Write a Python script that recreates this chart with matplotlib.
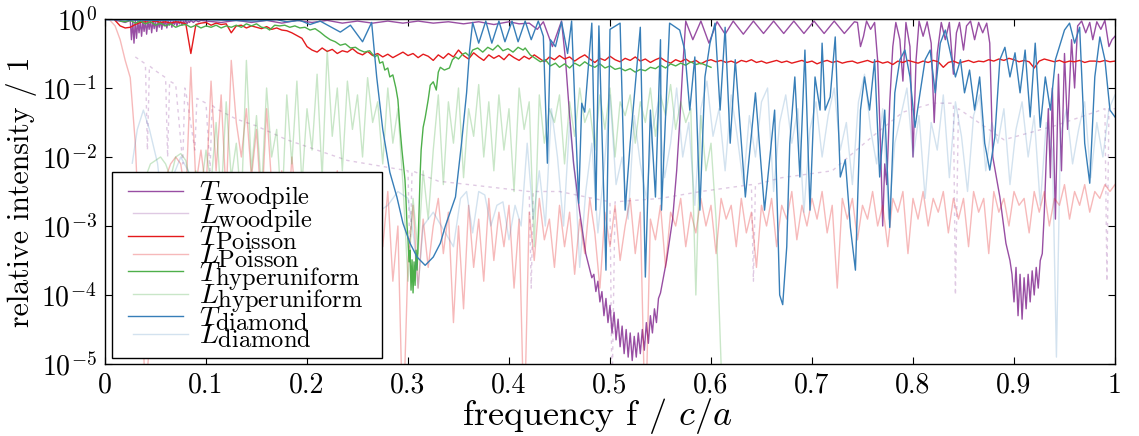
import numpy as np
import matplotlib
matplotlib.use("Agg")
import matplotlib.pyplot as plt
import matplotlib._mathtext as _mt
from matplotlib.legend_handler import HandlerLine2D

plt.rcParams["font.family"] = ["cmr10", "DejaVu Serif"]
plt.rcParams["mathtext.fontset"] = "cm"
plt.rcParams["axes.formatter.use_mathtext"] = True

# ---------------------------------------------------------------------------
# spectra: frequency f (units of c/a) and log10 of the relative intensity
# ---------------------------------------------------------------------------

# transmission, woodpile
f_t_woodpile = [
    0.010, 0.015, 0.020, 0.0250, 0.0262, 0.0275, 0.0287, 0.0300, 0.0312, 0.0325,
    0.0337, 0.0350, 0.0362, 0.0375, 0.0387, 0.0400, 0.0412, 0.0425, 0.0437, 0.0450,
    0.0462, 0.0475, 0.0487, 0.0500, 0.0512, 0.0525, 0.0537, 0.0550, 0.0562, 0.0575,
    0.0587, 0.0600, 0.0612, 0.0625, 0.0637, 0.0650, 0.0662, 0.0675, 0.0687, 0.0700,
    0.0712, 0.0725, 0.0737, 0.0750, 0.0762, 0.0775, 0.0787, 0.0800, 0.0812, 0.0825,
    0.0837, 0.0850, 0.0875, 0.0900, 0.0925, 0.0950,
    0.100, 0.115, 0.130, 0.145, 0.160, 0.175, 0.190, 0.205, 0.220, 0.235,
    0.250, 0.265, 0.280, 0.295, 0.310, 0.325, 0.340, 0.355, 0.370, 0.385,
    0.400, 0.410, 0.420, 0.428, 0.434, 0.443, 0.452,
    0.456, 0.460, 0.464, 0.470, 0.476, 0.482,
    0.484, 0.486, 0.488, 0.490, 0.492, 0.494, 0.496, 0.498, 0.500, 0.502,
    0.504, 0.506, 0.508, 0.510, 0.512, 0.514, 0.516, 0.518, 0.520, 0.522,
    0.524, 0.526, 0.528, 0.530, 0.532, 0.534, 0.536, 0.538, 0.540, 0.542,
    0.544, 0.546, 0.548, 0.550, 0.556, 0.562, 0.566, 0.569, 0.572,
    0.575, 0.582, 0.590, 0.598, 0.606, 0.614, 0.622, 0.632, 0.642, 0.652,
    0.662, 0.672, 0.682, 0.692, 0.702, 0.712, 0.722, 0.732, 0.742,
    0.745, 0.748, 0.751, 0.754, 0.758, 0.762, 0.765, 0.768, 0.770, 0.772,
    0.774, 0.777, 0.780, 0.783, 0.787, 0.790, 0.793, 0.797, 0.800, 0.803,
    0.806, 0.810, 0.814, 0.818, 0.821, 0.824, 0.828, 0.832, 0.836, 0.840,
    0.843, 0.846, 0.850, 0.853, 0.857, 0.861, 0.865, 0.869, 0.873, 0.876,
    0.879, 0.886, 0.892, 0.896,
    0.898, 0.900, 0.902, 0.904, 0.906, 0.908, 0.910, 0.912, 0.914, 0.916,
    0.918, 0.920, 0.922, 0.924, 0.926, 0.928, 0.930, 0.932, 0.934, 0.936,
    0.938, 0.941, 0.944, 0.947, 0.950, 0.953, 0.957, 0.960, 0.963, 0.967,
    0.971, 0.975, 0.978, 0.982, 0.986, 0.990, 0.994, 0.997, 1.000,
]
lg_t_woodpile = [
    -0.02, -0.03, -0.05, -0.02, -0.30, -0.03, -0.35, -0.02, -0.28, -0.03,
    -0.20, -0.02, -0.25, -0.03, -0.18, -0.02, -0.22, -0.03, -0.15, -0.02,
    -0.20, -0.02, -0.14, -0.02, -0.18, -0.03, -0.12, -0.02, -0.15, -0.03,
    -0.10, -0.02, -0.13, -0.03, -0.09, -0.02, -0.12, -0.03, -0.08, -0.02,
    -0.10, -0.03, -0.07, -0.02, -0.09, -0.03, -0.06, -0.02, -0.07, -0.03,
    -0.05, -0.02, -0.05, -0.02, -0.04, -0.02,
    -0.03, -0.05, -0.02, -0.05, -0.02, -0.06, -0.02, -0.05, -0.02, -0.06,
    -0.03, -0.06, -0.03, -0.06, -0.03, -0.06, -0.04, -0.07, -0.04, -0.08,
    -0.04, -0.07, -0.06, -0.15, -0.04, -0.40, -0.03,
    -0.60, -1.40, -2.10, -2.80, -3.40, -3.75,
    -3.70, -3.95, -3.80, -4.10, -3.95, -4.30, -4.05, -4.40, -4.15, -4.55,
    -4.25, -4.65, -4.35, -4.75, -4.45, -4.85, -4.50, -4.90, -4.55, -4.95,
    -4.60, -4.90, -4.55, -4.85, -4.50, -4.80, -4.40, -4.70, -4.30, -4.55,
    -4.20, -4.40, -4.05, -3.97, -3.50, -2.90, -2.20, -1.50, -0.70,
    -0.03, -0.30, -0.03, -0.35, -0.04, -0.22, -0.03, -0.22, -0.03, -0.21,
    -0.03, -0.21, -0.03, -0.21, -0.03, -0.21, -0.03, -0.21, -0.04,
    -0.05, -0.40, -0.25, -0.03, -0.15, -0.05, -0.60, -1.90, -3.00, -2.10,
    -2.40, -1.20, -0.40, -0.05, -0.30, -0.90, -0.05, -0.40, -2.00, -0.60,
    -0.03, -0.25, -0.04, -0.35, -1.50, -0.50, -0.05, -0.30, -0.05, -0.80,
    -0.20, -0.05, -0.45, -0.10, -0.03, -0.30, -0.05, -0.20, -0.06, -0.35,
    -2.00, -2.58, -3.25, -3.50,
    -3.70, -4.10, -3.60, -4.30, -3.70, -4.35, -3.75, -4.20, -3.70, -4.10,
    -3.65, -4.00, -3.60, -3.90, -3.50, -3.40, -2.80, -2.00, -1.30, -2.30,
    -1.00, -2.90, -0.80, -2.20, -0.50, -1.60, -0.30, -1.00, -0.10, -0.03,
    -0.20, -0.05, -0.30, -0.04, -0.15, -0.02, -0.40, -0.30, -0.25,
]

# longitudinal, woodpile
f_l_woodpile = [
    0.030, 0.040, 0.042, 0.044, 0.050, 0.060, 0.062, 0.064, 0.070, 0.077,
    0.079, 0.080, 0.089, 0.091, 0.100, 0.104, 0.106, 0.110, 0.130, 0.150,
    0.180, 0.210, 0.240, 0.280, 0.300, 0.302, 0.304, 0.330, 0.390, 0.420,
    0.422, 0.424, 0.450, 0.500, 0.502, 0.505, 0.550, 0.590, 0.640, 0.642,
    0.644, 0.670, 0.720, 0.760, 0.790, 0.820, 0.840, 0.842, 0.845, 0.890,
    0.940, 0.990, 0.992, 0.994, 1.000,
]
lg_l_woodpile = [
    -0.55, -0.65, -1.90, -0.68, -0.75, -0.85, -2.00, -0.90, -0.95, -2.10,
    -1.00, -1.05, -1.90, -1.15, -1.22, -2.20, -1.25, -1.30, -1.45, -1.55,
    -1.75, -1.90, -2.05, -2.15, -2.20, -3.50, -2.20, -2.35, -2.45, -2.50,
    -3.90, -2.50, -2.50, -2.65, -5.50, -2.65, -2.60, -2.50, -2.40, -3.80,
    -2.40, -2.30, -2.20, -1.70, -1.35, -1.22, -1.22, -4.00, -1.30, -1.75,
    -1.55, -1.30, -3.80, -1.30, -1.30,
]

# transmission, Poisson disorder (grid 0.010 ... 1.000, step 0.005)
f_t_poisson = np.arange(0.010, 1.0001, 0.005)
lg_t_poisson = [
    -0.02, -0.10, -0.13, -0.12, -0.08, -0.05, -0.04, -0.05, -0.03, -0.05,
    -0.04, -0.06, -0.04, -0.05, -0.07, -0.50, -0.08, -0.06, -0.05, -0.09,
    -0.06, -0.08, -0.07, -0.20, -0.10, -0.09, -0.13, -0.10, -0.12, -0.14,
    -0.11, -0.15, -0.13, -0.16, -0.17, -0.20, -0.24, -0.28, -0.40, -0.45,
    -0.48, -0.42, -0.47, -0.44, -0.50, -0.46, -0.48, -0.43, -0.49, -0.52,
    -0.47, -0.53, -0.50, -0.55, -0.51, -0.56, -0.52, -0.48, -0.53, -0.50,
    -0.56, -0.51, -0.54, -0.60, -0.52, -0.57, -0.50, -0.55, -0.45, -0.53,
    -0.58, -0.49, -0.55, -0.60, -0.52, -0.57, -0.53, -0.59, -0.51, -0.56,
    -0.60, -0.54, -0.58, -0.52, -0.57, -0.62, -0.55, -0.59, -0.53, -0.58,
    -0.55, -0.61, -0.56, -0.52, -0.58, -0.63, -0.57, -0.60, -0.54, -0.59,
    -0.62, -0.57, -0.60, -0.55, -0.61, -0.58, -0.63, -0.59, -0.56, -0.61,
    -0.64, -0.59, -0.62, -0.58, -0.63, -0.60, -0.65, -0.61, -0.59, -0.62,
    -0.60, -0.63, -0.61, -0.64, -0.60, -0.62, -0.59, -0.63, -0.61, -0.64,
    -0.62, -0.60, -0.63, -0.61, -0.64, -0.62, -0.60, -0.63, -0.61, -0.65,
    -0.62, -0.60, -0.63, -0.61, -0.64, -0.62, -0.61, -0.64, -0.62, -0.60,
    -0.63, -0.61, -0.64, -0.62, -0.66, -0.61, -0.63, -0.60, -0.62, -0.64,
    -0.61, -0.63, -0.60, -0.62, -0.70, -0.63, -0.61, -0.64, -0.62, -0.60,
    -0.63, -0.61, -0.62, -0.59, -0.61, -0.58, -0.60, -0.57, -0.59, -0.62,
    -0.60, -0.62, -0.71, -0.61, -0.58, -0.60, -0.62, -0.60, -0.63, -0.61,
    -0.62, -0.60, -0.63, -0.61, -0.61, -0.62, -0.60, -0.62, -0.61,
]

# longitudinal, Poisson disorder (grid 0.000 ... 1.000, step 0.005)
f_l_poisson = np.arange(0.000, 1.0001, 0.005)
lg_l_poisson = [
    0.00, -0.02, -0.10, -0.30, -0.60, -0.85, -1.80, -3.50, -5.50, -4.50,
    -3.00, -2.60, -2.30, -2.10, -2.00, -2.10, -2.60, -0.70, -2.40, -1.90,
    -2.50, -0.90, -2.20, -1.10, -2.60, -0.60, -1.50, -2.00, -1.30, -2.30,
    -1.60, -2.80, -1.30, -2.40, -3.00, -2.20, -3.20, -2.00, -2.80, -2.30,
    -3.30, -2.50, -3.00, -2.40, -3.40, -2.60, -2.20, -3.00, -2.50, -3.60,
    -2.80, -2.30, -3.10, -2.60, -2.40, -3.30, -2.50, -3.80, -3.00, -6.00,
    -3.50, -2.70, -3.90, -2.90, -3.60, -3.00, -2.60, -3.40, -2.80, -4.40,
    -3.00, -4.20, -2.70, -3.60, -2.90, -3.80, -2.60, -3.50, -2.80, -3.30,
    -2.70, -3.90, -2.90, -6.00, -2.80, -3.50, -2.60, -3.20, -2.90, -3.60,
    -2.70, -3.30, -2.80, -3.70, -2.90, -3.40, -2.60, -3.10, -3.90, -2.80,
    -3.30, -2.70, -3.50, -3.00, -2.60, -3.40, -2.80, -6.00, -2.90, -3.20,
    -2.70, -3.60, -2.80, -3.00, -2.60, -3.30, -2.80, -3.10, -2.60, -3.00,
    -2.70, -3.40, -2.60, -2.90, -2.70, -3.30, -2.60, -3.10, -2.80, -3.60,
    -2.70, -3.00, -2.60, -3.30, -2.70, -2.90, -2.50, -3.20, -2.70, -3.00,
    -2.60, -2.90, -2.50, -3.10, -2.70, -3.90, -2.60, -2.90, -2.60, -3.20,
    -2.70, -2.90, -2.50, -3.00, -2.70, -3.30, -2.60, -2.80, -2.50, -3.40,
    -2.60, -2.90, -2.50, -3.00, -2.60, -2.80, -2.50, -3.10, -2.60, -2.90,
    -2.60, -3.30, -2.50, -2.80, -2.60, -3.40, -2.50, -2.80, -2.60, -3.00,
    -2.50, -2.70, -2.60, -3.10, -2.50, -2.80, -2.50, -3.00, -2.60, -2.70,
    -2.40, -2.90, -2.50, -2.70, -2.40, -2.80, -2.50, -2.60, -2.40, -2.50,
    -2.40,
]

# transmission, hyperuniform disorder
f_t_hyper = [
    0.015, 0.020, 0.025, 0.030, 0.035, 0.040, 0.045, 0.050, 0.055, 0.060,
    0.065, 0.070, 0.075, 0.080, 0.085, 0.090, 0.095, 0.100, 0.105, 0.110,
    0.115, 0.120, 0.125, 0.130, 0.135, 0.140, 0.145, 0.150, 0.155, 0.160,
    0.163, 0.168, 0.173, 0.178, 0.183, 0.188, 0.193, 0.198, 0.203, 0.208,
    0.213, 0.218, 0.223, 0.228, 0.233, 0.238, 0.243, 0.248, 0.252, 0.257,
    0.262, 0.267, 0.270, 0.272, 0.275, 0.277, 0.280, 0.282, 0.285, 0.288,
    0.290, 0.292, 0.294, 0.297, 0.298, 0.299, 0.300, 0.301, 0.302, 0.303,
    0.304, 0.305, 0.306, 0.307, 0.308, 0.309, 0.310, 0.311, 0.312, 0.313,
    0.315, 0.317, 0.320, 0.322, 0.325, 0.328, 0.330, 0.332, 0.336, 0.341,
    0.344, 0.347, 0.350, 0.354, 0.357, 0.361, 0.364, 0.369, 0.374, 0.379,
    0.384, 0.389, 0.394, 0.399, 0.404, 0.409, 0.414, 0.416, 0.421, 0.426,
    0.431, 0.436, 0.441, 0.446, 0.450, 0.455, 0.460, 0.465, 0.470, 0.475,
    0.480, 0.485, 0.490, 0.495, 0.500, 0.505, 0.510, 0.515, 0.520, 0.525,
    0.530, 0.535, 0.540, 0.545, 0.550, 0.555, 0.560, 0.565, 0.570, 0.575,
    0.580, 0.585, 0.590, 0.595, 0.600,
]
lg_t_hyper = [
    -0.03, -0.04, -0.02, -0.06, -0.03, -0.07, -0.04, -0.09, -0.06, -0.10,
    -0.07, -0.12, -0.09, -0.08, -0.12, -0.09, -0.13, -0.10, -0.12, -0.09,
    -0.13, -0.10, -0.12, -0.09, -0.12, -0.07, -0.10, -0.07, -0.12, -0.13,
    -0.16, -0.09, -0.10, -0.09, -0.12, -0.10, -0.13, -0.12, -0.16, -0.14,
    -0.19, -0.25, -0.30, -0.33, -0.38, -0.36, -0.42, -0.41, -0.45, -0.48,
    -0.46, -0.55, -0.52, -0.64, -0.62, -0.74, -0.71, -0.84, -0.81, -1.00,
    -1.17, -1.57, -1.90, -2.33, -2.62, -2.99, -3.20, -3.52, -3.35, -3.93,
    -3.49, -3.97, -3.52, -3.86, -3.35, -3.64, -3.25, -2.77, -2.26, -1.90,
    -1.57, -1.43, -1.17, -0.96, -0.91, -1.03, -0.77, -0.70, -0.74, -0.71,
    -0.59, -0.55, -0.58, -0.51, -0.49, -0.54, -0.45, -0.42, -0.48, -0.41,
    -0.45, -0.38, -0.46, -0.43, -0.48, -0.41, -0.45, -0.42, -0.52, -0.57,
    -0.62, -0.59, -0.68, -0.64, -0.70, -0.65, -0.71, -0.64, -0.68, -0.62,
    -0.67, -0.70, -0.65, -0.71, -0.68, -0.73, -0.71, -0.75, -0.72, -0.77,
    -0.73, -0.75, -0.70, -0.72, -0.67, -0.71, -0.65, -0.68, -0.64, -0.67,
    -0.62, -0.66, -0.64, -0.67, -0.70,
]

# longitudinal, hyperuniform disorder (grid 0.040 ... 0.610, step 0.005)
f_l_hyper = np.arange(0.040, 0.6101, 0.005)
lg_l_hyper = [
    -2.30, -2.10, -2.05, -2.00, -2.10, -2.30, -2.00, -1.95, -2.05, -2.40,
    -2.20, -2.50, -1.90, -2.40, -1.50, -2.60, -1.20, -2.30, -1.80, -2.70,
    -0.60, -2.20, -1.40, -2.50, -1.00, -2.00, -1.60, -2.80, -1.10, -2.10,
    -0.90, -2.40, -1.30, -1.90, -0.80, -2.30, -0.45, -1.70, -1.00, -2.20,
    -0.90, -1.60, -1.10, -2.00, -0.85, -1.50, -1.20, -2.10, -1.00, -1.80,
    -1.30, -2.40, -3.80, -2.60, -3.40, -2.20, -2.90, -1.90, -1.10, -2.40,
    -1.20, -1.80, -1.00, -2.30, -1.30, -1.70, -0.95, -2.00, -1.20, -2.20,
    -1.10, -1.90, -1.30, -2.50, -1.00, -1.60, -1.20, -3.30, -1.10, -1.80,
    -1.30, -1.50, -1.10, -2.10, -1.20, -1.70, -1.00, -1.50, -1.30, -1.90,
    -1.10, -1.60, -1.00, -2.00, -1.20, -1.40, -1.10, -1.80, -1.20, -1.50,
    -1.00, -1.70, -1.10, -1.40, -0.95, -1.60, -1.20, -1.50, -1.30, -4.00,
    -1.40, -2.20, -1.80, -2.90, -5.00,
]

# transmission, diamond
f_t_diamond = [
    0.000, 0.050, 0.100, 0.150, 0.170, 0.180, 0.193, 0.203, 0.213, 0.233,
    0.243, 0.255, 0.264, 0.269, 0.275, 0.282, 0.289, 0.295, 0.302, 0.309,
    0.317, 0.325, 0.332, 0.337, 0.347, 0.353, 0.358, 0.361, 0.364,
    0.370, 0.377, 0.383, 0.390, 0.396, 0.403, 0.409, 0.416, 0.422, 0.429,
    0.434, 0.438, 0.441, 0.446, 0.452, 0.458, 0.462, 0.469, 0.472, 0.475,
    0.482, 0.486, 0.489, 0.496, 0.500,
    0.510, 0.515, 0.520, 0.530, 0.535, 0.540, 0.545, 0.550, 0.551, 0.559,
    0.569, 0.574, 0.579, 0.584, 0.589, 0.594, 0.599, 0.604, 0.609, 0.614,
    0.619, 0.624, 0.634, 0.644, 0.653, 0.663, 0.668, 0.671, 0.675, 0.678,
    0.683, 0.688, 0.693, 0.698, 0.703, 0.708, 0.710, 0.713, 0.718, 0.723,
    0.728, 0.733, 0.738, 0.743, 0.748, 0.752, 0.757, 0.762, 0.767, 0.772,
    0.777, 0.782, 0.787, 0.792, 0.797, 0.802, 0.807, 0.812, 0.817, 0.822,
    0.827, 0.832, 0.837, 0.842, 0.847, 0.851, 0.856, 0.861, 0.866, 0.871,
    0.876, 0.881, 0.886, 0.891, 0.896, 0.901, 0.906, 0.911, 0.916, 0.921,
    0.926, 0.931, 0.936, 0.941, 0.946, 0.950, 0.955, 0.960, 0.965, 0.970,
    0.975, 0.980, 0.985, 0.990, 0.995, 1.000,
]
lg_t_diamond = [
    -0.01, -0.02, -0.01, -0.03, -0.01, -0.04, -0.02, -0.08, -0.03, -0.19,
    -0.09, -0.33, -0.05, -0.84, -1.60, -2.22, -2.58, -2.96, -3.25, -3.45,
    -3.57, -3.45, -3.25, -3.00, -2.58, -1.80, -1.07, -0.45, -0.05,
    -0.35, -0.03, -0.35, -0.03, -0.33, -0.03, -0.33, -0.03, -0.30, -0.03,
    -0.25, -2.09, -0.30, -0.40, -0.04, -0.50, -0.03, -2.67, -1.22, -1.35,
    -0.06, -2.77, -0.10, -3.64, -0.15,
    -0.06, -2.77, -1.80, -0.12, -3.74, -1.32, -2.58, -0.30, -2.77, -0.06,
    -0.16, -0.45, -1.32, -0.55, -2.77, -0.84, -0.35, -0.06, -1.32, -0.12,
    -1.80, -0.59, -2.58, -1.07, -2.77, -1.32, -4.00, -4.14, -3.30, -1.80,
    -0.84, -2.29, -0.45, -2.77, -0.84, -1.32, -0.35, -1.32, -1.13, -0.26,
    -2.29, -2.04, -3.02, -3.64, -1.32, -0.84, -1.32, -0.59, -2.29, -1.32,
    -3.02, -1.07, -0.59, -0.45, -0.84, -1.57, -1.07, -0.59, -0.45, -1.07,
    -0.35, -0.16, -0.49, -0.84, -0.59, -1.07, -0.74, -1.32, -0.84, -1.80,
    -2.19, -1.71, -0.59, -0.41, -0.84, -0.49, -1.07, -0.45, -1.42, -0.35,
    -1.57, -0.84, -1.32, -0.59, -0.35, -0.16, -0.06, -0.35, -0.12, -1.80,
    -2.38, -0.84, -0.26, -0.59, -1.32, -1.42,
]

# longitudinal, diamond
f_l_diamond = [
    0.027, 0.032, 0.038, 0.044, 0.052, 0.056, 0.060, 0.064, 0.075, 0.086,
    0.090, 0.100, 0.150, 0.200, 0.250, 0.270, 0.280, 0.290, 0.300, 0.306,
    0.310, 0.315, 0.325, 0.345, 0.352, 0.358, 0.364, 0.370, 0.376, 0.382,
    0.388, 0.394, 0.400, 0.406, 0.412, 0.418, 0.424, 0.430, 0.436, 0.442,
    0.448, 0.454, 0.460, 0.466, 0.470, 0.476, 0.482, 0.488, 0.494, 0.500,
    0.506, 0.512, 0.518, 0.524, 0.530, 0.536, 0.542, 0.548, 0.554, 0.560,
    0.566, 0.572, 0.578, 0.584, 0.590, 0.596, 0.602, 0.608, 0.614, 0.620,
    0.626, 0.632, 0.638, 0.644, 0.650, 0.656, 0.662, 0.668, 0.674, 0.680,
    0.686, 0.692, 0.698, 0.704, 0.710, 0.716, 0.722, 0.728, 0.734, 0.740,
    0.746, 0.752, 0.758, 0.764, 0.770, 0.776, 0.782, 0.788, 0.794, 0.800,
    0.806, 0.812, 0.818, 0.824, 0.830, 0.836, 0.842, 0.848, 0.854, 0.860,
    0.866, 0.872, 0.878, 0.884, 0.890, 0.896, 0.902, 0.908, 0.914, 0.920,
    0.926, 0.932, 0.938, 0.942, 0.946, 0.952, 0.958, 0.964, 0.970, 0.976,
    0.982, 0.988, 0.994, 1.000,
]
lg_l_diamond = [
    -2.09, -1.60, -1.32, -1.60, -2.09, -2.60, -3.50, -2.40, -2.00, -2.30,
    -3.00, -3.50, -3.00, -3.20, -3.00, -2.80, -2.70, -2.50, -2.60, -3.20,
    -3.90, -3.00, -2.80, -3.30, -2.60, -2.50, -3.10, -2.50, -2.55, -3.00,
    -2.70, -2.65, -3.20, -2.70, -3.00, -1.80, -2.90, -2.20, -3.00, -1.30,
    -2.00, -3.00, -1.50, -2.40, -3.60, -2.50, -1.80, -3.10, -2.20, -1.10,
    -2.40, -2.00, -2.90, -1.40, -2.10, -2.60, -1.60, -1.20, -2.30, -1.80,
    -1.00, -2.00, -1.50, -2.70, -1.30, -0.90, -1.70, -1.30, -2.20, -1.10,
    -1.70, -2.40, -1.40, -2.00, -1.20, -1.00, -2.50, -1.50, -1.10, -1.80,
    -1.30, -2.80, -1.60, -1.20, -2.00, -1.40, -1.00, -1.90, -1.50, -2.40,
    -1.20, -0.80, -1.60, -2.10, -1.30, -2.90, -1.80, -1.40, -1.00, -2.00,
    -1.40, -2.60, -1.50, -1.90, -1.10, -2.30, -1.20, -1.70, -2.50, -1.40,
    -1.10, -2.20, -1.50, -1.80, -1.30, -2.40, -1.60, -1.20, -2.00, -1.40,
    -2.70, -1.50, -1.90, -4.90, -1.70, -1.30, -2.10, -1.60, -1.20, -2.30,
    -1.50, -2.00, -1.30, -1.10,
]

labels = [
    r"$T_\mathrm{woodpile}$", r"$L_\mathrm{woodpile}$",
    r"$T_\mathrm{Poisson}$", r"$L_\mathrm{Poisson}$",
    r"$T_\mathrm{hyperuniform}$", r"$L_\mathrm{hyperuniform}$",
    r"$T_\mathrm{diamond}$", r"$L_\mathrm{diamond}$",
]
x_ticks = [0.0, 0.1, 0.2, 0.3, 0.4, 0.5, 0.6, 0.7, 0.8, 0.9, 1.0]
x_tick_labels = ["0", "0.1", "0.2", "0.3", "0.4", "0.5", "0.6", "0.7", "0.8", "0.9", "1"]

purple, red, green, blue = "#984ea3", "#e41a1c", "#4daf4a", "#377eb8"

fig = plt.figure(figsize=(11.39, 4.36), dpi=100)
ax = fig.add_axes([105 / 1139, 72 / 436, 1010 / 1139, 345 / 436])

series = [
    (f_t_woodpile, lg_t_woodpile, purple, 1.0, "-"),
    (f_l_woodpile, lg_l_woodpile, purple, 0.3, (0, (2.5, 3))),
    (f_t_poisson, lg_t_poisson, red, 1.0, "-"),
    (f_l_poisson, lg_l_poisson, red, 0.3, "-"),
    (f_t_hyper, lg_t_hyper, green, 1.0, "-"),
    (f_l_hyper, lg_l_hyper, green, 0.3, "-"),
    (f_t_diamond, lg_t_diamond, blue, 1.0, "-"),
    (f_l_diamond, lg_l_diamond, blue, 0.22, "-"),
]
handles = []
for (f, lg, c, a, ls), lab in zip(series, labels):
    line, = ax.plot(np.asarray(f), 10.0 ** np.asarray(lg), color=c, alpha=a,
                    lw=1.0, ls=ls, label=lab)
    handles.append(line)

ax.set_yscale("log")
ax.set_xlim(0, 1)
ax.set_ylim(1e-5, 1)
ax.set_xticks(x_ticks)
ax.set_xticklabels(x_tick_labels)
ax.minorticks_off()
ax.tick_params(direction="in", top=True, right=True, length=5, width=0.8,
               labelsize=20, pad=6)
for s in ax.spines.values():
    s.set_linewidth(1.0)

ax.set_xlabel(r"frequency f / $c/a$", fontsize=26)
ax.xaxis.set_label_coords(0.487, -0.092, transform=ax.transAxes)
ax.xaxis.label.set_va("top")
ax.set_ylabel("relative intensity / 1", fontsize=21.5, labelpad=3)


class OffsetLineHandler(HandlerLine2D):
    """Legend line of fixed length starting at a fixed offset (points)."""

    def __init__(self, start, length, **kw):
        super().__init__(**kw)
        self._start = start
        self._length = length

    def get_xdata(self, legend, xdescent, ydescent, width, height, fontsize):
        xdata = np.array([self._start, self._start + self._length])
        return xdata, np.array([self._start + self._length / 2])


hmap = {}
for i, h in enumerate(handles):
    start = 5.8 if i % 2 == 0 else 9.4
    hmap[h] = OffsetLineHandler(start, 40.3)

leg = ax.legend(handles=handles, handler_map=hmap, loc="lower left",
                bbox_to_anchor=(0.0069, 0.0174, 0.2673, 0.536), mode="expand",
                borderaxespad=0, fontsize=20, frameon=True, fancybox=False,
                edgecolor="black", framealpha=1, handlelength=2.7,
                handletextpad=0.18, labelspacing=-0.36, borderpad=0.27)
leg.get_frame().set_linewidth(1.0)
for h in leg.get_lines():
    h.set_linestyle("-")

# legend subscripts are set almost at full size
_legend_draw = leg.draw


def _draw_legend(renderer):
    saved = _mt.SHRINK_FACTOR
    _mt.SHRINK_FACTOR = 0.88
    try:
        _legend_draw(renderer)
    finally:
        _mt.SHRINK_FACTOR = saved


leg.draw = _draw_legend

fig.savefig("out.png", dpi=100)
